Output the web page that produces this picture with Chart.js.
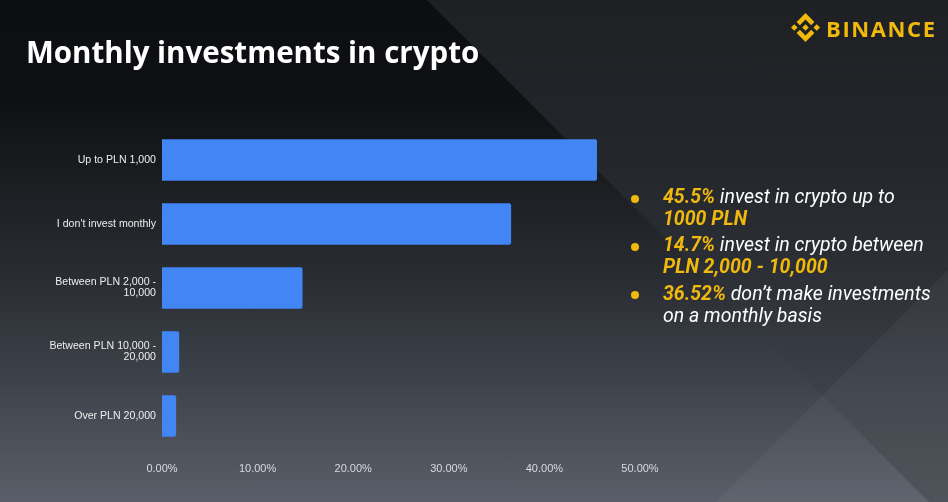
<!DOCTYPE html>
<html>
<head>
<meta charset="utf-8">
<script src="https://cdn.jsdelivr.net/npm/chart.js@4/dist/chart.umd.min.js"></script>
<style>
  html, body { margin: 0; padding: 0; }
  body {
    width: 948px; height: 502px; overflow: hidden; position: relative;
    background: linear-gradient(180deg, #0c0e11 0%, #0e1014 20%, #1b1d21 36%, #2a2d33 56%, #3e434b 76%, #5a5e68 100%);
  }
  .tri1 {
    position: absolute; left: 0; top: 0; width: 948px; height: 521px;
    background: linear-gradient(180deg, #1e2024 0%, #23262a 30%, #2c2f35 52%, #3d4149 76%, #4a4f57 100%);
    clip-path: polygon(427px 0, 948px 0, 948px 521px);
  }
  .tri2 {
    position: absolute; left: 0; top: 0; width: 948px; height: 502px;
    background: rgba(255,255,255,0.04);
    clip-path: polygon(948px 270px, 948px 502px, 716px 502px);
  }
  #chart { position: absolute; left: 0; top: 0; }
  .title {
    position: absolute; left: 26px; top: 37px; margin: 0;
    font-family: "Open Sans", sans-serif; font-weight: 700; font-size: 29.5px; line-height: 29.5px;
    color: #ffffff; white-space: nowrap;
  }
  .brand {
    position: absolute; left: 826px; top: 13px;
    font-family: "Open Sans", sans-serif; font-weight: 700; font-size: 22px; line-height: 30px;
    color: #F0B90B; letter-spacing: 1.6px;
  }
  .logo { position: absolute; left: 791px; top: 13px; width: 29px; height: 29px; }
  .item {
    position: absolute; left: 663px;
    font-family: Roboto, sans-serif; font-style: italic; font-size: 19.5px; line-height: 22px;
    color: #ffffff; white-space: nowrap;
  }
  .item b { color: #F0B90B; font-weight: 700; }
  .dot { position: absolute; left: 631px; width: 8px; height: 8px; border-radius: 50%; background: #F0B90B; }
</style>
</head>
<body>
<div class="tri1"></div>
<div class="tri2"></div>
<canvas id="chart" width="948" height="502"></canvas>
<div class="title">Monthly investments in crypto</div>
<svg class="logo" viewBox="0 0 126.6 126.6" xmlns="http://www.w3.org/2000/svg">
  <g fill="#F0B90B">
    <polygon points="38.7,53.2 63.3,28.6 87.9,53.2 102.2,38.9 63.3,0 24.4,38.9"/>
    <polygon points="38.7,73.4 63.3,98 87.9,73.4 102.2,87.7 63.3,126.6 24.4,87.7"/>
    <polygon points="0,63.3 14.3,49 28.6,63.3 14.3,77.6"/>
    <polygon points="98,63.3 112.3,49 126.6,63.3 112.3,77.6"/>
    <polygon points="63.3,48.8 77.8,63.3 63.3,77.8 48.8,63.3"/>
  </g>
</svg>
<div class="brand">BINANCE</div>

<div class="dot" style="top:195px"></div>
<div class="item" style="top:186px"><b>45.5%</b> invest in crypto up to<br><b>1000 PLN</b></div>
<div class="dot" style="top:243px"></div>
<div class="item" style="top:234px"><b>14.7%</b> invest in crypto between<br><b>PLN 2,000 - 10,000</b></div>
<div class="dot" style="top:291px"></div>
<div class="item" style="top:283px"><b>36.52%</b> don’t make investments<br>on a monthly basis</div>

<script>
const categories = [
  "Up to PLN 1,000",
  "I don't invest monthly",
  ["Between PLN 2,000 -", "10,000"],
  ["Between PLN 10,000 -", "20,000"],
  "Over PLN 20,000"
];
const shares = [45.5, 36.52, 14.7, 1.8, 1.48];
const axisMin = 0;
const axisMax = 50;
const axisStep = 10;

new Chart(document.getElementById('chart'), {
  type: 'bar',
  data: {
    labels: categories,
    datasets: [{
      data: shares,
      backgroundColor: '#4285F4',
      barPercentage: 0.65,
      categoryPercentage: 1,
      borderRadius: 2
    }]
  },
  options: {
    indexAxis: 'y',
    responsive: false,
    animation: false,
    layout: { padding: { left: 0, top: 128, right: 308, bottom: 0 } },
    plugins: { legend: { display: false }, tooltip: { enabled: false } },
    scales: {
      x: {
        min: axisMin, max: axisMax,
        grid: { display: false, drawTicks: false },
        border: { display: false },
        ticks: {
          stepSize: axisStep,
          padding: 14,
          color: '#d8dade',
          font: { family: '"Liberation Sans", Arial, sans-serif', size: 11 },
          callback: v => v.toFixed(2) + '%'
        },
        afterFit: s => { s.height = 54; }
      },
      y: {
        grid: { display: false, drawTicks: false },
        border: { display: false },
        ticks: {
          padding: 6,
          color: '#eeeeee',
          font: { family: '"Liberation Sans", Arial, sans-serif', size: 10.6, lineHeight: 1.05 }
        },
        afterFit: s => { s.width = 162; }
      }
    }
  }
});
</script>
</body>
</html>
